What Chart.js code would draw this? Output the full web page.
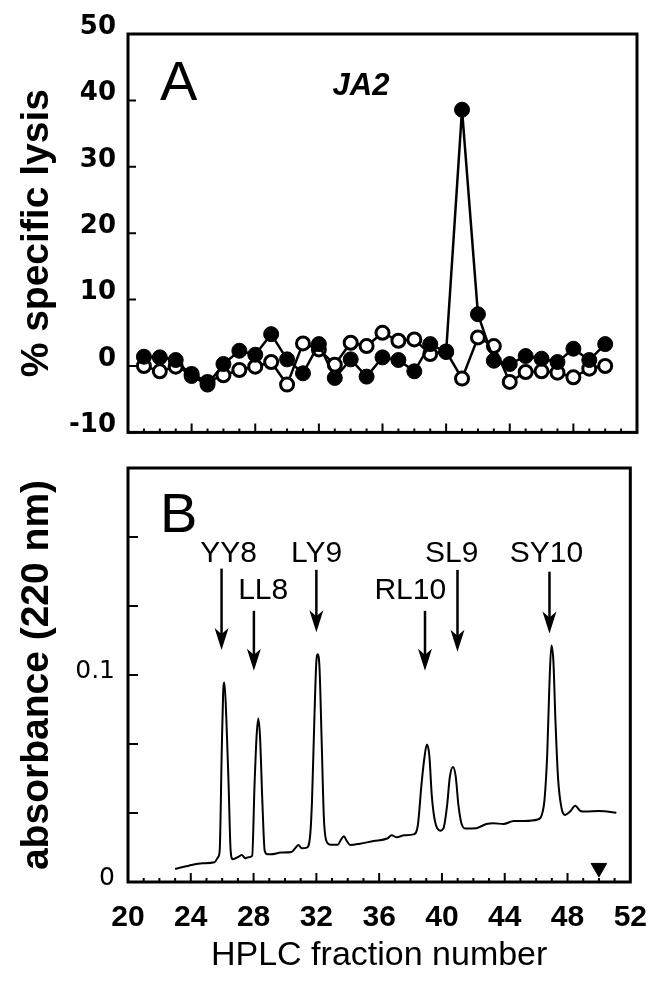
<!DOCTYPE html>
<html>
<head>
<meta charset="utf-8">
<script src="https://cdn.jsdelivr.net/npm/chart.js@4.4.1/dist/chart.umd.min.js"></script>
<style>
  body { margin: 0; background: #fff; }
  #wrap { position: relative; width: 665px; height: 988px; }
  #chartA { position: absolute; left: 0; top: 0; }
  #chartB { position: absolute; left: 0; top: 440px; }
</style>
</head>
<body>
<div id="wrap">
  <canvas id="chartA" width="665" height="460"></canvas>
  <canvas id="chartB" width="665" height="548"></canvas>
</div>
<script>
// panel A - cytotoxicity per HPLC fraction
const fractions = [21, 22, 23, 24, 25, 26, 27, 28, 29, 30, 31, 32, 33, 34, 35,
                   36, 37, 38, 39, 40, 41, 42, 43, 44, 45, 46, 47, 48, 49, 50];
const lysisFilled = [1.4, 1.3, 0.9, -1.5, -2.8, 0.3, 2.3, 1.7, 4.8, 1.0, -1.1, 3.3, -1.8, 1.0, -1.6,
                     1.3, 0.9, -0.8, 3.3, 2.1, 38.6, 7.8, 0.8, 0.3, 1.5, 1.1, 0.6, 2.6, 0.9, 3.3];
const lysisOpen = [0.0, -0.8, -0.1, -1.2, -2.4, -1.4, -0.6, -0.1, 0.6, -2.8, 3.4, 2.5, 0.2, 3.5, 3.0,
                   5.0, 3.8, 4.0, 1.8, 2.2, -1.9, 4.3, 3.0, -2.4, -0.9, -0.8, -1.0, -1.7, -0.4, 0.0];
const lysisTicks = [-10, 0, 10, 20, 30, 40, 50];

// panel B - absorbance trace
const absX = [23.0, 23.88, 24.75, 25.51, 25.73, 25.84, 25.97, 26.06, 26.14, 26.27, 26.41, 26.54, 26.67,
  27.04, 27.25, 27.47, 27.69, 27.91, 28.06, 28.19, 28.30, 28.41, 28.56, 28.71, 28.89, 29.1, 29.76,
  30.41, 30.68, 30.85, 31.07, 31.39, 31.61, 31.72, 31.87, 32.0, 32.09, 32.2, 32.33, 32.48, 32.66,
  32.92, 33.36, 33.57, 33.75, 33.94, 34.16, 34.77, 35.64, 36.51, 36.8, 37.12, 37.6, 38.2, 38.47,
  38.69, 38.87, 39.04, 39.2, 39.35, 39.56, 39.89, 40.1, 40.33, 40.5, 40.7, 40.87, 41.05, 41.24,
  41.52, 42.18, 42.83, 43.27, 43.92, 44.58, 45.23, 46.1, 46.36, 46.54, 46.71, 46.84, 46.97, 47.1,
  47.23, 47.4, 47.62, 47.84, 48.16, 48.49, 48.82, 49.14, 50.02, 51.11];
const absY = [0.0063, 0.0079, 0.009, 0.0095, 0.0119, 0.015, 0.0624, 0.091, 0.0964, 0.078, 0.0466, 0.015, 0.011,
  0.0122, 0.013, 0.0115, 0.012, 0.0126, 0.0466, 0.0703, 0.079, 0.0703, 0.0387, 0.015, 0.0134, 0.0134, 0.0142,
  0.0145, 0.0166, 0.0179, 0.0163, 0.0166, 0.023, 0.0387, 0.078, 0.1066, 0.110, 0.1035, 0.0703, 0.0308, 0.0194,
  0.018, 0.018, 0.0205, 0.0221, 0.0198, 0.0179, 0.0185, 0.0198, 0.021, 0.0226, 0.0216, 0.0226, 0.023, 0.0277,
  0.0466, 0.0593, 0.0664, 0.0608, 0.042, 0.0292, 0.0248, 0.026, 0.0371, 0.0506, 0.0556, 0.0514, 0.0371, 0.0284,
  0.0258, 0.026, 0.028, 0.0284, 0.028, 0.0295, 0.0295, 0.0302, 0.0324, 0.0403, 0.0624, 0.094, 0.1142, 0.1066,
  0.078, 0.0498, 0.0356, 0.0324, 0.034, 0.0368, 0.0343, 0.034, 0.0343, 0.0335];
const markerX = [50.0];
const markerY = [0.0068];
const absTicks = [0, 1/30, 2/30, 0.1, 4/30, 5/30, 0.2];
const absTickLabels = ['0', '', '', '0.1', '', '', ''];

const xTicks = [20, 24, 28, 32, 36, 40, 44, 48, 52];

// peptide labels and arrows (x = fraction, y = absorbance units)
const peptides = ['YY8', 'LL8', 'LY9', 'RL10', 'SL9', 'SY10'];
const labelX = [26.41, 28.61, 32.01, 37.98, 40.62, 46.66];
const labelY = [0.1546, 0.1366, 0.1546, 0.1366, 0.1546, 0.1546];
const arrowX = [25.96, 28.02, 32.0, 38.92, 40.99, 46.85];
const arrowTop = [0.1514, 0.1310, 0.1508, 0.1310, 0.1508, 0.1499];
const arrowTip = [0.1121, 0.1021, 0.1207, 0.1021, 0.1112, 0.1201];

const toPts = (xs, ys) => xs.map((x, i) => ({x: x, y: ys[i]}));

// frame + inward tick marks
const frameTicks = {
  id: 'frameTicks',
  afterDraw(chart, args, opts) {
    const {ctx, chartArea: a, scales} = chart;
    ctx.save();
    ctx.strokeStyle = '#000';
    ctx.lineWidth = 3;
    ctx.strokeRect(a.left, a.top, a.right - a.left, a.bottom - a.top);
    ctx.lineWidth = 2;
    ctx.beginPath();
    for (let f = 21; f < 52; f++) {
      const x = scales.x.getPixelForValue(f);
      const len = f % 4 === 0 ? 9 : 4;
      ctx.moveTo(x, a.bottom);
      ctx.lineTo(x, a.bottom - len);
    }
    scales.y.ticks.forEach(t => {
      const y = scales.y.getPixelForValue(t.value);
      ctx.moveTo(a.left, y);
      ctx.lineTo(a.left + opts.yTick, y);
    });
    ctx.stroke();
    ctx.restore();
  }
};

const panelText = {
  id: 'panelText',
  afterDraw(chart, args, opts) {
    const {ctx, chartArea: a, scales} = chart;
    ctx.save();
    ctx.fillStyle = '#000';
    ctx.textBaseline = 'alphabetic';
    ctx.font = '56px "Liberation Sans", Arial, sans-serif';
    ctx.fillText(opts.letter, a.left + 32, a.top + opts.letterDrop);
    if (opts.tag) {
      ctx.textAlign = 'center';
      ctx.font = 'italic bold 31px "Liberation Sans", Arial, sans-serif';
      ctx.fillText(opts.tag, a.left + 233, a.top + 61);
    }
    if (opts.arrows) {
      ctx.textAlign = 'center';
      ctx.font = '30px "Liberation Sans", Arial, sans-serif';
      peptides.forEach((p, i) => {
        ctx.fillText(p, scales.x.getPixelForValue(labelX[i]), scales.y.getPixelForValue(labelY[i]));
        const x = scales.x.getPixelForValue(arrowX[i]);
        const y1 = scales.y.getPixelForValue(arrowTop[i]);
        const y2 = scales.y.getPixelForValue(arrowTip[i]);
        ctx.lineWidth = 2.5;
        ctx.beginPath();
        ctx.moveTo(x, y1);
        ctx.lineTo(x, y2 - 12);
        ctx.stroke();
        ctx.beginPath();
        ctx.moveTo(x, y2);
        ctx.lineTo(x - 7, y2 - 22);
        ctx.lineTo(x, y2 - 16);
        ctx.lineTo(x + 7, y2 - 22);
        ctx.closePath();
        ctx.fill();
      });
    }
    ctx.restore();
  }
};

const tickFontA = {family: '"DejaVu Sans", sans-serif', size: 26, weight: 'bold'};
const tickFontB = {family: '"DejaVu Sans", sans-serif', size: 25};
const titleFont = {family: '"Liberation Sans", Arial, sans-serif', size: 39, weight: 'bold'};

new Chart(document.getElementById('chartA'), {
  type: 'line',
  data: {
    datasets: [{
      label: 'filled',
      data: toPts(fractions, lysisFilled),
      borderColor: '#000',
      borderWidth: 2.5,
      pointRadius: 7.5,
      pointBackgroundColor: '#000',
      pointBorderColor: '#000',
      pointBorderWidth: 1,
      tension: 0
    }, {
      label: 'open',
      data: toPts(fractions, lysisOpen),
      borderColor: '#000',
      borderWidth: 2.5,
      pointRadius: 6.5,
      pointBackgroundColor: '#fff',
      pointBorderColor: '#000',
      pointBorderWidth: 3,
      tension: 0
    }]
  },
  options: {
    responsive: false,
    animation: false,
    layout: {padding: {top: 34, right: 28, bottom: 1, left: 0}},
    plugins: {
      legend: {display: false},
      tooltip: {enabled: false},
      frameTicks: {yTick: 8},
      panelText: {letter: 'A', letterDrop: 66, tag: 'JA2'}
    },
    scales: {
      x: {type: 'linear', min: 20, max: 52, display: false},
      y: {
        min: -10, max: 50,
        afterBuildTicks: s => { s.ticks = lysisTicks.map(v => ({value: v})); },
        afterFit: s => { s.width = 128; },
        ticks: {font: tickFontA, color: '#000', padding: 12, labelOffset: -7},
        grid: {display: false, drawTicks: false},
        border: {display: false},
        title: {display: true, text: '% specific lysis', font: titleFont, color: '#000', padding: {top: 14, bottom: 0}}
      }
    }
  },
  plugins: [frameTicks, panelText]
});

new Chart(document.getElementById('chartB'), {
  type: 'line',
  data: {
    datasets: [{
      label: 'marker',
      data: toPts(markerX, markerY),
      showLine: false,
      pointStyle: 'triangle',
      rotation: 180,
      pointRadius: 9,
      pointBackgroundColor: '#000',
      pointBorderColor: '#000'
    }, {
      label: 'A220',
      data: toPts(absX, absY),
      borderColor: '#000',
      borderWidth: 2,
      pointRadius: 0,
      cubicInterpolationMode: 'monotone'
    }]
  },
  options: {
    responsive: false,
    animation: false,
    layout: {padding: {top: 19, right: 28, bottom: 0, left: 0}},
    plugins: {
      legend: {display: false},
      tooltip: {enabled: false},
      frameTicks: {yTick: 10},
      panelText: {letter: 'B', letterDrop: 64, arrows: true}
    },
    scales: {
      x: {
        type: 'linear', min: 20, max: 52,
        afterBuildTicks: s => { s.ticks = xTicks.map(v => ({value: v})); },
        afterFit: s => { s.height = 106; },
        ticks: {font: {family: '"Liberation Sans", Arial, sans-serif', size: 30, weight: 'bold'}, color: '#000', padding: 18},
        grid: {display: false, drawTicks: false},
        border: {display: false},
        title: {display: true, text: 'HPLC fraction number', font: {family: '"Liberation Sans", Arial, sans-serif', size: 34}, color: '#000', padding: {top: 0, bottom: 12}}
      },
      y: {
        min: 0, max: 0.2,
        afterBuildTicks: s => { s.ticks = absTicks.map(v => ({value: v})); },
        afterFit: s => { s.width = 128; },
        ticks: {font: tickFontB, color: '#000', padding: 13, labelOffset: -4,
                callback: (v, i) => absTickLabels[i]},
        grid: {display: false, drawTicks: false},
        border: {display: false},
        title: {display: true, text: 'absorbance (220 nm)', font: titleFont, color: '#000', padding: {top: 14, bottom: 0}}
      }
    }
  },
  plugins: [frameTicks, panelText]
});
</script>
</body>
</html>
